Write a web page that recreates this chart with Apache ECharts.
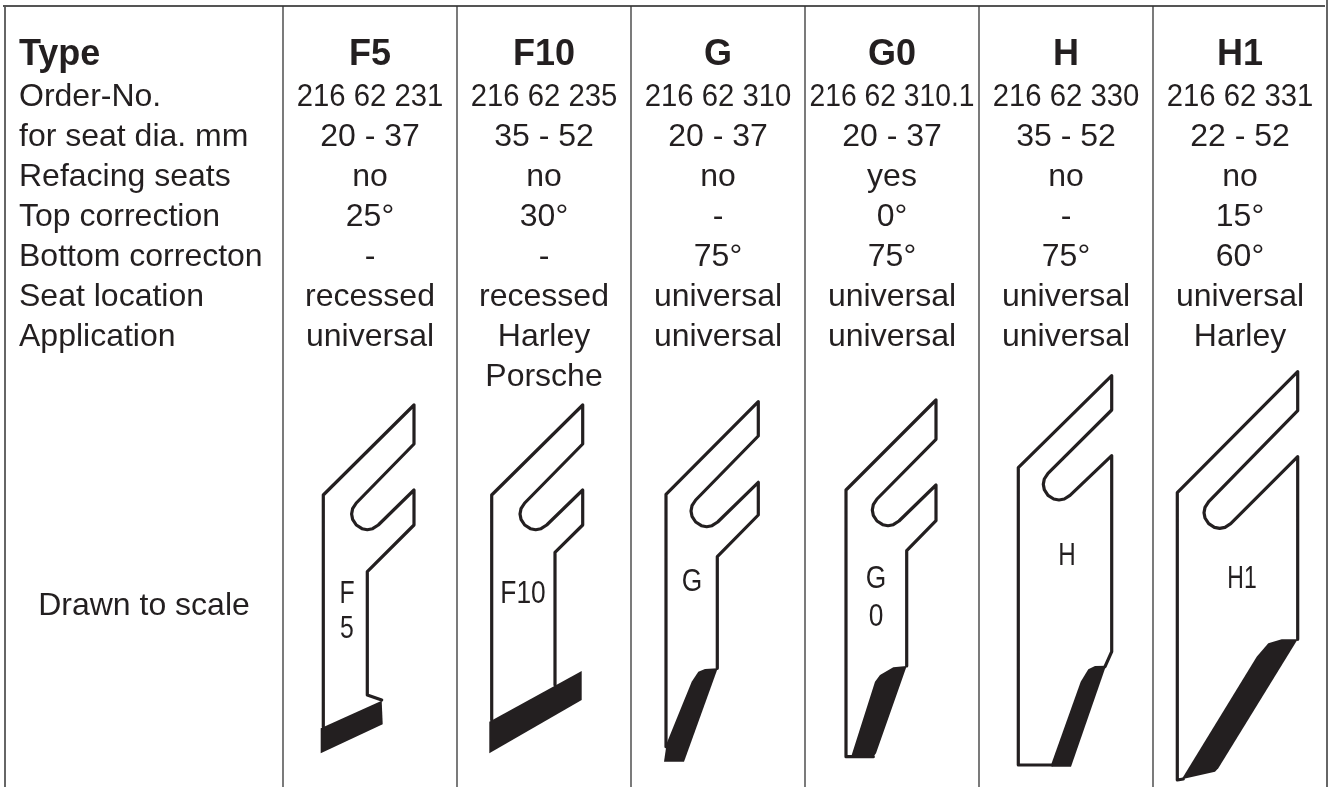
<!DOCTYPE html>
<html>
<head>
<meta charset="utf-8">
<title>Cutter types</title>
<style>
html, body { margin: 0; padding: 0; background: #fff; }
#main { width: 1330px; height: 787px; }
</style>
<script src="https://cdn.jsdelivr.net/npm/echarts@6/dist/echarts.min.js"></script>
</head>
<body>
<div id="main"></div>
<script>
// table content
var rowNames = ['Order-No.', 'for seat dia. mm', 'Refacing seats', 'Top correction', 'Bottom correcton', 'Seat location', 'Application'];
var types = ['F5', 'F10', 'G', 'G0', 'H', 'H1'];
var orderNos = ['216 62 231', '216 62 235', '216 62 310', '216 62 310.1', '216 62 330', '216 62 331'];
var seatDias = ['20 - 37', '35 - 52', '20 - 37', '20 - 37', '35 - 52', '22 - 52'];
var refacing = ['no', 'no', 'no', 'yes', 'no', 'no'];
var topCorrection = ['25°', '30°', '-', '0°', '-', '15°'];
var bottomCorrection = ['-', '-', '75°', '75°', '75°', '60°'];
var seatLocation = ['recessed', 'recessed', 'universal', 'universal', 'universal', 'universal'];
var application = ['universal', 'Harley', 'universal', 'universal', 'universal', 'Harley'];
var applicationLine2 = ['', 'Porsche', '', '', '', ''];

// blade profiles
var f5Outline = [[323.3,726.7],[323.3,495],[414,405],[414,444],[356.3,503],[352.6,508.7],[351.6,514],[352.6,519.3],[356.3,525],[362,528.7],[367.3,529.7],[372.6,528.7],[378.3,525],[414,490],[414,525],[367.3,571.7],[367.3,695],[381.7,700]];
var f5Cut = [[320.7,728.3],[381.7,700.7],[382.7,724.3],[320.7,753.3]];
var f10Outline = [[491.7,720],[491.7,495],[582.7,405],[582.7,444],[524.7,503],[521,508.7],[520,514],[521,519.3],[524.7,525],[530.4,528.7],[535.7,529.7],[541,528.7],[546.7,525],[582.7,490],[582.7,525],[555,552.3],[555,685]];
var f10Cut = [[489.3,721.7],[581.7,671],[581.7,700],[489.3,753.3]];
var gOutline = [[666,746.7],[666,494.3],[758.3,401.7],[758.3,436],[695.7,500],[692,505.7],[691,511],[692,516.3],[695.7,522],[701.4,525.7],[706.7,526.7],[712,525.7],[717.7,522],[758.3,482.3],[758.3,515],[717.3,556.7],[717.3,668.3]];
var gCut = [[717.7,668.3],[705,669],[698.3,671.7],[691.7,681.7],[666.7,743.3],[664,761.7],[684,761.7]];
var g0Outline = [[873.3,756.7],[846,756.7],[846,490],[936,400],[936,439.3],[877,499],[873.3,504.7],[872.3,510],[873.3,515.3],[877,521],[882.7,524.7],[888,525.7],[893.3,524.7],[899,521],[936,485],[936,520.7],[906.7,550.7],[906.7,666]];
var g0Cut = [[906.7,666],[893.3,667.3],[880,675],[875,681.7],[851.7,755],[848.3,757.7],[872.7,757.7],[876,753.3]];
var hOutline = [[1051.7,765],[1018.3,765],[1018.3,467.7],[1111.7,375.7],[1111.7,410],[1048,473.3],[1044.3,479],[1043.3,484.3],[1044.3,489.6],[1048,495.3],[1053.7,499],[1059,500],[1064.3,499],[1070,495.3],[1111.7,455.7],[1111.7,651.7],[1105,666.7]];
var hCut = [[1106,665.7],[1095,666],[1088.3,669.3],[1080.7,681.7],[1051,765],[1051.7,766.7],[1071,766.7]];
var h1Outline = [[1183.3,779],[1177.3,780],[1177.3,492.7],[1297.7,371.7],[1297.7,410.7],[1208.7,501.7],[1205,507.4],[1204,512.7],[1205,518],[1208.7,523.7],[1214.4,527.4],[1219.7,528.4],[1225,527.4],[1230.7,523.7],[1297.7,456.7],[1297.7,639.3]];
var h1Cut = [[1297.7,639.3],[1281.7,639.3],[1268.3,643.3],[1256.7,656.7],[1181.7,779.3],[1215,771.7],[1218.3,768.3]];

var outlines = [f5Outline, f10Outline, gOutline, g0Outline, hOutline, h1Outline];
var cuts = [f5Cut, f10Cut, gCut, g0Cut, hCut, h1Cut];

var INK = '#231f20';
var FONT = '"Liberation Sans", Arial, sans-serif';
var rules = [
    { pts: [[5, 5], [5, 787]], color: '#666', width: 2 },
    { pts: [[3, 6], [1325, 6]], color: '#555', width: 2 },
    { pts: [[1327, 0], [1327, 787]], color: '#666', width: 2 }
];
[283, 457, 631, 805, 979, 1153].forEach(function(x) {
    rules.push({ pts: [[x, 6], [x, 787]], color: '#333', width: 1.3 });
});

// every text of the table: [text, x, y, fontSize, bold, scaleX, align]
var texts = [];
texts.push(['Type', 19, 53, 36, true, 1, 'left']);
rowNames.forEach(function(name, i) {
    texts.push([name, 19, 95 + 40 * i, 32, false, 1, 'left']);
});
var columns = [orderNos, seatDias, refacing, topCorrection, bottomCorrection, seatLocation, application, applicationLine2];
types.forEach(function(type, c) {
    var x = 370 + 174 * c;
    texts.push([type, x, 53, 36, true, 1, 'center']);
    columns.forEach(function(col, r) {
        var sx = 1;
        if (r === 0) {
            sx = col[c].length > 10 ? 0.883 : 0.915;
        }
        texts.push([col[c], x, 95 + 40 * r, 32, false, sx, 'center']);
    });
});
texts.push(['Drawn to scale', 144, 604, 32, false, 1, 'center']);
// labels on the blades
texts.push(['F', 347, 592, 31, false, 0.8, 'center']);
texts.push(['5', 347, 627, 31, false, 0.8, 'center']);
texts.push(['F10', 523, 592, 31, false, 0.85, 'center']);
texts.push(['G', 692, 580, 31, false, 0.85, 'center']);
texts.push(['G', 876, 577, 31, false, 0.85, 'center']);
texts.push(['0', 876, 615, 31, false, 0.85, 'center']);
texts.push(['H', 1067, 554, 31, false, 0.78, 'center']);
texts.push(['H1', 1242, 577, 31, false, 0.74, 'center']);

function toPixels(api, pts) {
    return pts.map(function(p) { return api.coord(p); });
}

var myChart = echarts.init(document.getElementById('main'), null, { renderer: 'canvas' });
var option = {
    animation: false,
    backgroundColor: '#fff',
    grid: { left: 0, right: 0, top: 0, bottom: 0 },
    xAxis: { type: 'value', min: 0, max: 1330, show: false },
    yAxis: { type: 'value', min: 0, max: 787, inverse: true, show: false },
    series: [{
        // table frame
        type: 'custom',
        silent: true,
        data: rules.map(function(r, i) { return [i]; }),
        renderItem: function(params, api) {
            var r = rules[params.dataIndex];
            return {
                type: 'polyline',
                shape: { points: toPixels(api, r.pts) },
                style: { stroke: r.color, lineWidth: r.width, fill: null }
            };
        }
    }, {
        // black cutting edges
        type: 'custom',
        silent: true,
        data: cuts.map(function(r, i) { return [i]; }),
        renderItem: function(params, api) {
            return {
                type: 'polygon',
                shape: { points: toPixels(api, cuts[params.dataIndex]) },
                style: { fill: INK, stroke: null }
            };
        }
    }, {
        // blade outlines
        type: 'custom',
        silent: true,
        data: outlines.map(function(r, i) { return [i]; }),
        renderItem: function(params, api) {
            return {
                type: 'polyline',
                shape: { points: toPixels(api, outlines[params.dataIndex]) },
                style: { stroke: INK, lineWidth: 3.2, fill: null, lineJoin: 'round', lineCap: 'round' }
            };
        }
    }, {
        type: 'custom',
        silent: true,
        data: texts.map(function(t, i) { return [i]; }),
        renderItem: function(params, api) {
            var t = texts[params.dataIndex];
            var p = api.coord([t[1], t[2] + 2]);
            return {
                type: 'text',
                x: p[0],
                y: p[1],
                scaleX: t[5],
                style: {
                    text: t[0],
                    x: 0,
                    y: 0,
                    fill: INK,
                    font: (t[4] ? 'bold ' : '') + t[3] + 'px ' + FONT,
                    align: t[6],
                    verticalAlign: 'middle'
                }
            };
        }
    }]
};
myChart.setOption(option);
</script>
</body>
</html>
